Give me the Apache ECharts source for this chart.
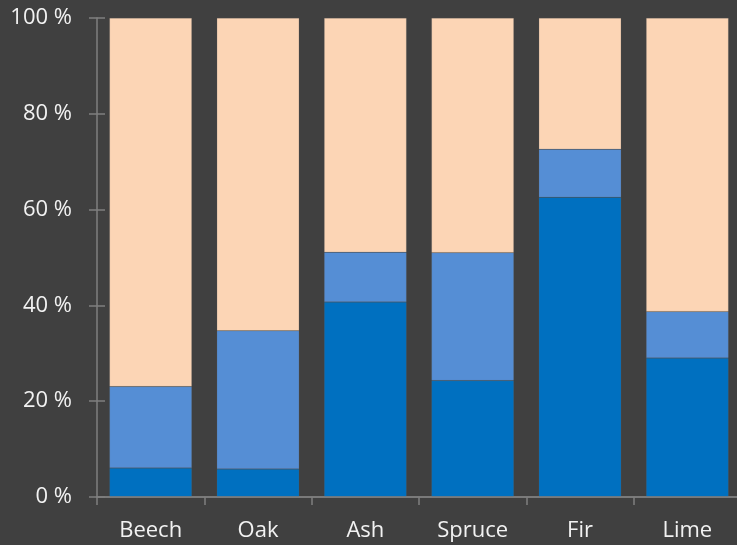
<!DOCTYPE html>
<html>
<head>
<meta charset="utf-8">
<script src="https://cdn.jsdelivr.net/npm/echarts@6/dist/echarts.min.js"></script>
<style>
html,body{margin:0;padding:0;background:#404040;}
#c{width:737px;height:545px;}
</style>
</head>
<body>
<div id="c"></div>
<script>
var categories = ['Beech', 'Oak', 'Ash', 'Spruce', 'Fir', 'Lime'];
var seriesDark = [6.05, 5.84, 40.7, 24.3, 62.6, 29.0];
var seriesMid = [17.0, 28.86, 10.4, 26.7, 10.0, 9.7];
var seriesRest = [76.95, 65.3, 48.9, 49.0, 27.4, 61.3];
var yTicks = [0, 20, 40, 60, 80, 100];

var axisColor = '#7f7f7f';
var textColor = '#f2f2f2';
var font = '"Open Sans", sans-serif';

var chart = echarts.init(document.getElementById('c'));
function barSeries(name, data, color) {
  return {
    name: name,
    type: 'bar',
    stack: 'total',
    data: data,
    barCategoryGap: '23.2%',
    itemStyle: { color: color, borderColor: 'rgba(110,110,110,0.35)', borderWidth: 0.5 },
    xAxisIndex: 0,
    yAxisIndex: 0
  };
}
chart.setOption({
  backgroundColor: '#404040',
  animation: false,
  grid: { left: 97, width: 644, top: 18, bottom: 48, outerBoundsMode: 'none', containLabel: false },
  xAxis: [{
    type: 'category',
    data: categories,
    position: 'bottom',
    axisLine: { lineStyle: { color: axisColor, width: 1.5 } },
    axisTick: { show: true, length: 8, lineStyle: { color: axisColor, width: 1.5 } },
    axisLabel: { color: textColor, fontSize: 22, fontFamily: font, margin: 23 },
    z: 5
  }, {
    type: 'category',
    data: categories,
    position: 'top',
    axisLine: { show: true, lineStyle: { color: axisColor, width: 1.5 } },
    axisTick: { show: false },
    axisLabel: { show: false },
    z: 0
  }],
  yAxis: [{
    type: 'value',
    min: 0,
    max: 100,
    interval: 20,
    position: 'left',
    axisLine: { show: true, lineStyle: { color: axisColor, width: 1.5 } },
    axisTick: { show: true, length: 8, lineStyle: { color: axisColor, width: 1.5 } },
    splitLine: { show: false },
    axisLabel: {
      color: textColor, fontSize: 22, fontFamily: font, margin: 25,
      formatter: function (v) { return yTicks.indexOf(v) >= 0 ? v + ' %' : ''; }
    },
    z: 5
  }, {
    type: 'value',
    min: 0,
    max: 100,
    interval: 20,
    position: 'left',
    axisLine: { show: false },
    axisTick: { show: true, inside: true, length: 8, lineStyle: { color: axisColor, width: 1.5 } },
    splitLine: { show: false },
    axisLabel: { show: false },
    z: 0
  }],
  series: [
    barSeries('Dark', seriesDark, '#0070c0'),
    barSeries('Mid', seriesMid, '#558ed5'),
    barSeries('Rest', seriesRest, '#fcd5b5')
  ]
});
</script>
</body>
</html>
